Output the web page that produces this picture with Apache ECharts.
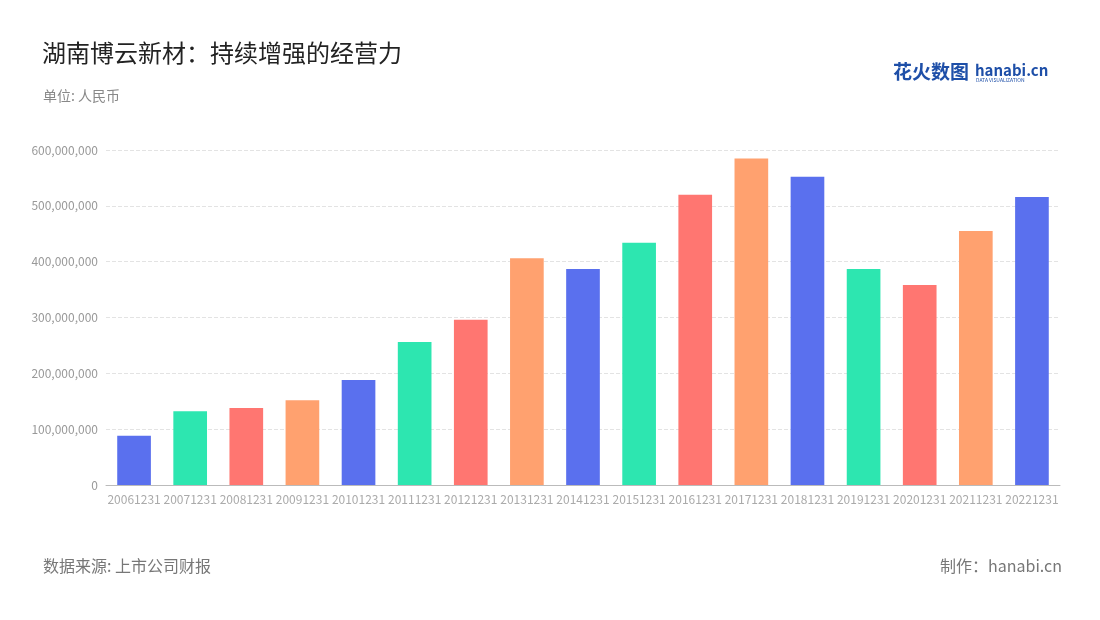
<!DOCTYPE html>
<html>
<head>
<meta charset="utf-8">
<script src="https://cdn.jsdelivr.net/npm/echarts@6/dist/echarts.min.js"></script>
<style>
  html, body { margin: 0; padding: 0; background: #fff; }
  #chart { width: 1100px; height: 620px; }
</style>
</head>
<body>
<div id="chart"></div>
<script>
// 年报日期
const categories = ["20061231", "20071231", "20081231", "20091231", "20101231", "20111231", "20121231",
  "20131231", "20141231", "20151231", "20161231", "20171231", "20181231", "20191231", "20201231",
  "20211231", "20221231"];
// 营业收入（人民币）
const revenue = [88000000, 132000000, 138000000, 152000000, 188000000, 256000000, 296000000,
  406000000, 387000000, 434000000, 520000000, 585000000, 552000000, 387000000, 358000000,
  455000000, 516000000];
const palette = ["#5a70ee", "#2de6b0", "#ff7671", "#ffa16f"];

const chart = echarts.init(document.getElementById("chart"));
const font = "'Noto Sans CJK SC', 'Noto Sans', sans-serif";

chart.setOption({
  textStyle: { fontFamily: font },
  title: [
    { text: "湖南博云新材：持续增强的经营力", left: 37, top: 36,
      textStyle: { fontSize: 24, fontWeight: "normal", color: "#222", fontFamily: font } },
    { text: "单位: 人民币", left: 38, top: 84,
      textStyle: { fontSize: 14, fontWeight: "normal", color: "#888", fontFamily: font } },
    { text: "数据来源: 上市公司财报", left: 38, top: 553,
      textStyle: { fontSize: 16, fontWeight: "normal", color: "#777", fontFamily: font } },
    { text: "制作：hanabi.cn", right: 33, top: 553,
      textStyle: { fontSize: 16, fontWeight: "normal", color: "#777", fontFamily: font } }
  ],
  graphic: [
    { type: "text", left: 893, top: 62,
      style: { text: "花火数图", font: "bold 19px " + font, fill: "#1e4fa8" } },
    { type: "text", left: 975, top: 63,
      style: { text: "hanabi.cn", font: "bold 15px " + font, fill: "#1e4fa8" } },
    { type: "text", left: 976, top: 78,
      style: { text: "DATA VISUALIZATION", font: "5px " + font, fill: "#1e4fa8" } }
  ],
  grid: { left: 106, right: 40, top: 150, bottom: 135 },
  xAxis: {
    type: "category",
    data: categories,
    axisLine: { lineStyle: { color: "#bbb" } },
    axisTick: { show: false },
    axisLabel: { color: "#aaa", fontSize: 12, interval: 0, margin: 8 }
  },
  yAxis: {
    type: "value",
    min: 0, max: 600000000, interval: 100000000,
    axisLine: { show: false },
    axisTick: { show: false },
    axisLabel: { color: "#999", fontSize: 12,
      formatter: v => v.toLocaleString("en-US") },
    splitLine: { lineStyle: { color: "#e3e3e3", type: "dashed" } }
  },
  series: [{
    type: "bar",
    data: revenue.map((v, i) => ({ value: v, itemStyle: { color: palette[i % 4] } })),
    barWidth: "60%"
  }]
});
</script>
</body>
</html>
